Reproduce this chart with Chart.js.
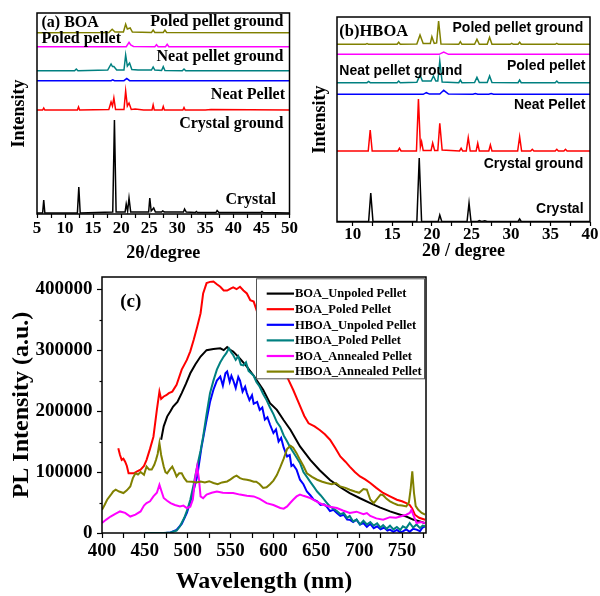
<!DOCTYPE html>
<html><head><meta charset="utf-8">
<script src="https://cdn.jsdelivr.net/npm/chart.js@4.4.0/dist/chart.umd.min.js"></script>
<style>
html,body{margin:0;padding:0;background:#fff;width:600px;height:596px;overflow:hidden}
canvas{position:absolute}
#ca{left:0;top:0;width:300px;height:262px}
#cb{left:300px;top:0;width:300px;height:262px}
#cc{left:0;top:262px;width:600px;height:334px}
</style></head><body>
<canvas id="ca" width="300" height="262"></canvas>
<canvas id="cb" width="300" height="262"></canvas>
<canvas id="cc" width="600" height="334"></canvas>
<script>
// ---------------- Panel (a) BOA XRD (stacked, arbitrary units) ----------------
const aCrystalX = [5,6.0,6.2,6.4,12.2,12.45,12.7,18.5,18.8,19.1,20.7,20.9,21.15,21.4,21.7,24.9,25.1,25.35,25.8,26.1,27.2,27.4,27.7,31.1,31.3,31.6,33.2,33.4,33.6,36.9,37.1,37.4,44.9,45.1,45.3,50];
const aCrystalY = [1,1,14,1,1,27,1,2,94,2,2,10,3,16,2,2,16,3,6,2,2,3,2,2,5,2,1.5,2.5,1.5,1.5,3.5,1.5,1.5,2.5,1.5,1];
const aCrystalGroundX = [5,6.0,6.2,6.4,12.2,12.4,12.6,17.8,18.2,18.45,18.7,19.0,20.5,20.8,21.1,21.4,21.8,22.5,24.0,25.5,25.7,25.9,27.3,27.5,27.7,31.0,31.2,31.4,35,36,50];
const aCrystalGroundY = [104,104,106,104,104,107,104,104.5,112,108,116,104.5,104.5,123,108,111,104.5,105,104,104,109,104,104,107.5,104,104,106.5,104,104,104.5,104];
const aNeatPelletX = [5,18.2,18.5,18.8,20.5,21,21.5,50];
const aNeatPelletY = [133.3,133.3,134.2,133.3,133.3,135.5,133.3,133.3];
const aNeatGroundX = [5,11.7,12.0,12.3,17.6,18.2,18.45,18.7,19.2,20.5,20.8,21.1,21.5,21.9,23,25.4,25.7,26.0,27.2,27.5,27.8,30.9,31.2,31.5,50];
const aNeatGroundY = [143.3,143.3,145,143.3,144,150,147.5,147.5,144,144,159,148,151,144.5,144,144,147,144,143.5,147.3,143.5,143.3,145,143.3,143.3];
const aPoledX = [5,20.9,21.4,21.7,22.2,26.0,26.3,26.6,27.9,28.2,28.5,50];
const aPoledY = [167.3,167.3,171.7,169,167.5,167.3,169.3,167.3,167.3,169.7,167.3,167.3];
const aPoledGroundX = [5,17.8,18.4,18.9,20.4,20.8,21.1,21.6,22,25.4,25.7,26,27.5,27.8,28.1,50];
const aPoledGroundY = [181.3,181.5,184.7,182,182,189.7,185,186,182,181.5,184,181.5,181.5,184,181.5,181.3];
const aTicks = [5,7.5,10,12.5,15,17.5,20,22.5,25,27.5,30,32.5,35,37.5,40,42.5,45,47.5,50];

// ---------------- Panel (b) HBOA XRD ----------------
const bCrystalX = [8,12.0,12.27,12.55,18.1,18.4,18.7,20.8,21.0,21.25,24.45,24.7,24.95,25.8,26.0,26.3,26.7,27.0,30.9,31.1,31.3,40];
const bCrystalY = [0.5,0.5,29,0.5,0.5,64,0.5,0.5,7,0.5,0.5,19,0.5,0.5,1.5,0.5,1.2,0.5,0.5,3,0.5,0.5];
const bCrystalGroundX = [8,11.95,12.2,12.45,15.7,15.9,16.1,18.05,18.3,18.55,18.7,18.9,19.9,20.1,20.35,20.75,21.0,21.3,23.5,23.7,23.9,24.35,24.6,24.85,25.6,25.8,26.0,27.2,27.4,27.6,30.85,31.1,31.35,32.5,32.7,32.9,35.6,35.8,36.0,36.7,36.9,37.1,40];
const bCrystalGroundY = [71,71,92,71,71,73.7,71,71,123,75,80.3,71.5,71.5,79,71.5,71.5,98.7,72,71,73.7,71,71,84.3,71,71,78.7,71,71,77,71,71,85.3,71,71,72.7,71,71,72.7,71,71,72.7,71,71];
const bNeatPelletX = [8,18.9,19.3,19.7,21.0,21.5,22.1,25.2,25.5,25.8,27.2,27.5,27.8,40];
const bNeatPelletY = [127.7,127.7,129.3,127.9,128,131.7,128,127.7,128.5,127.7,127.7,128.5,127.7,127.7];
const bNeatGroundX = [8,11.8,12.0,12.2,15.6,15.8,16.0,18.1,18.5,18.8,19.9,20.2,20.5,20.75,21.0,21.3,23.4,23.6,23.8,25.4,25.7,26.0,27.0,27.3,27.6,30.9,31.1,31.3,35.6,35.8,36.0,40];
const bNeatGroundY = [139.3,139.3,140.5,139.3,139.3,141,139.3,139.8,147,141,141,146,141,141,161,140,139.3,142,139.3,139.5,144.7,139.5,139.5,146,139.5,139.3,142,139.3,139.3,141,139.3,139.3];
const bPoledX = [8,20.9,21.5,22.1,40];
const bPoledY = [167.7,167.7,170,167.7,167.7];
const bPoledGroundX = [8,11.6,11.8,12.0,15.6,15.8,16.0,18.1,18.5,18.9,19.8,20.0,20.3,20.6,20.85,21.15,23.4,23.6,23.8,25.4,25.7,26.0,27.0,27.3,27.6,29.9,30.1,30.3,30.9,31.1,31.3,35.6,35.8,36.0,40];
const bPoledGroundY = [177.7,177.7,178.5,177.7,177.7,179.7,177.7,178,187,178.5,178.5,185.3,178.5,179,201,178,177.7,180.3,177.7,177.7,182.7,177.7,177.7,184.7,177.7,177.7,178.7,177.7,177.7,179.7,177.7,177.7,178.7,177.7,177.7];
const bTicks = [10,12.5,15,17.5,20,22.5,25,27.5,30,32.5,35,37.5,40];

// ---------------- Panel (c) PL spectra ----------------
const plLabels = ['BOA_Unpoled Pellet','BOA_Poled Pellet','HBOA_Unpoled Pellet','HBOA_Poled Pellet','BOA_Annealed Pellet','HBOA_Annealed Pellet'];
const cXTicks = [400,425,450,475,500,525,550,575,600,625,650,675,700,725,750,775];
const cYTicks = [0,50000,100000,150000,200000,250000,300000,350000,400000];
const boaUnpoledWl = [469,472,476,480,483,488,493,498,503,509,515,522,530,538,542,546,550,553,561,569,577,588,596,604,612,620,631,643,654,666,678,689,701,713,724,736,748,755,763,771,777];
const boaUnpoledI = [153000,175000,191000,200000,207500,215000,229500,245000,262000,277000,289500,300000,302000,303000,300000,305000,300000,297700,286000,273000,258000,235000,213000,202000,185000,169000,142000,120000,103000,87000,75000,65500,57000,49000,42000,35400,30000,27000,22000,19000,16000];
const boaPoledWl = [419,421,423,425,427,429,431,434,437,441,445,449,452,456,460,464,467,469,472,475,478,482,487,493,499,503,507,511,515,518,522,526,530,534,538,542,546,550,553,557,561,565,569,573,577,584,590,596,604,612,618,623,630,636,641,648,654,660,666,672,678,684,689,695,701,707,713,720,728,736,744,750,755,759,762,765,770,777];
const boaPoledI = [139000,128000,120000,122000,117000,110000,98000,98000,98000,101000,104000,110000,120000,138000,158000,202000,232000,220000,224000,226000,229500,232000,243000,268000,284000,298000,317000,338000,360600,393000,410000,412000,412500,408000,404000,398000,397700,401000,403000,400000,404000,398000,393000,382000,379700,350000,330000,311000,290000,268000,250000,235000,212000,192000,180000,175000,169000,162000,153000,140000,125600,117000,109000,100000,92800,88000,82000,74000,65600,60000,54600,52000,49000,46000,40000,30000,25000,21800];
const hboaUnpoledWl = [474,480,487,493,499,505,511,516,522,526,530,534,538,541,544,546,549,551,553,556,559,561,564,567,569,572,575,577,581,584,587,590,593,596,600,603,606,609,612,616,619,621,623,627,631,635,639,643,647,651,655,659,662,666,670,674,678,682,686,689,693,697,701,705,709,713,717,721,725,729,733,736,740,744,748,751,755,759,763,767,771,774,777];
const hboaUnpoledI = [0,1000,5000,15000,33000,60000,92800,140000,185700,215000,235000,250000,256700,242000,262000,265000,248000,258000,251000,238000,256000,250000,232000,240000,229500,218000,226000,212000,215000,202000,206000,186000,190000,178000,164000,170000,150000,156000,140000,125600,128000,110000,112000,104000,87400,80000,68000,62000,54600,52000,46000,47000,43600,36000,38000,32800,28000,30000,22000,21800,18000,22000,14000,16400,10000,15000,8000,11000,6000,9000,4000,5500,2000,5000,1000,2700,6000,2000,7000,5500,3000,9000,11000];
const hboaPoledWl = [450,460,472,480,487,491,496,500,503,507,511,515,518,522,526,530,534,538,542,545,548,551,553,556,559,562,565,568,571,574,577,580,584,588,592,596,600,604,608,612,616,619,623,627,631,635,639,643,647,651,655,659,662,666,670,674,678,682,686,689,693,697,701,705,709,713,717,721,725,728,732,736,740,744,748,751,755,759,763,767,771,774,777];
const hboaPoledI = [0,0,0,1000,4000,11000,25000,40000,54600,80000,109000,135000,158000,195000,229500,250000,268000,280000,289500,295000,303000,296000,292000,284000,290000,276000,275000,280000,266000,262000,258000,248000,240000,228000,218000,206000,195000,182000,174000,160000,150000,142000,133000,124000,115000,100000,92000,84000,76000,68000,62000,55000,50000,43600,40000,36000,31000,33000,25000,28000,19000,22000,14000,20000,14000,18000,12000,16000,9000,13000,7000,12000,6000,10000,5000,11000,8000,16400,9000,14000,8000,12000,11000];
const boaAnnealedWl = [400,405,410,415,421,427,433,439,445,449,452,456,460,464,467,470,472,476,480,485,491,495,499,503,506,509,511,513,515,518,522,528,534,541,548,553,561,569,577,584,592,600,608,612,616,620,623,627,631,635,643,650,658,666,674,681,689,697,705,709,713,720,728,736,743,748,755,759,761,763,767,772,777];
const boaAnnealedI = [16400,22000,27000,31000,35400,33000,27000,30000,35400,45000,49000,52000,60000,66000,79000,66000,57400,53000,49000,46000,43600,45000,41000,43000,55000,92800,109000,90000,60000,57000,63000,66000,68000,66000,65600,65600,63000,61000,60000,56000,49000,46000,41000,40000,43600,50000,54600,60000,63000,61000,57400,52000,46400,43000,41000,37000,32800,35000,31000,32800,28000,24000,21800,26000,25000,27000,30000,33000,38000,30000,16400,18000,16400];
const hboaAnnealedWl = [400,403,406,410,413,416,420,425,429,433,436,439,442,445,449,452,455,458,461,463,465,467,469,472,474,476,479,482,485,487,490,493,496,499,505,510,515,520,525,530,535,540,546,550,554,557,561,565,569,573,577,580,584,588,592,596,600,604,608,612,616,620,623,627,631,635,639,645,651,657,662,668,673,678,684,689,695,700,705,709,713,717,721,725,728,732,736,740,745,750,755,758,760,762,764,766,769,773,777];
const hboaAnnealedI = [38000,46000,54600,62000,68000,71000,68000,65600,70000,76400,90000,98000,96000,100000,95600,109000,104000,104000,112000,120000,130000,147500,128000,109000,100000,98000,104000,109000,100000,92800,98000,98000,90000,84600,84000,83000,84600,83000,85000,82000,80000,83000,84600,88000,92000,94000,90000,88000,87400,86000,84000,84000,80000,74000,75000,80000,86000,95000,108000,122000,138000,143000,140000,131000,120000,110000,98000,92000,87400,84000,82000,80000,82000,76400,74000,71000,68000,66000,72000,71000,55000,49000,56000,63000,62000,56000,52000,49000,46000,45000,43600,50000,71000,101000,65600,44000,38000,33000,30000];

// ---------------- helpers ----------------
const SERIF = "'Liberation Serif','Times New Roman',serif";
const SANS = "'Liberation Sans',Arial,sans-serif";
Chart.defaults.font.family = SERIF;
Chart.defaults.font.weight = 'bold';
Chart.defaults.color = '#000';

function pts(xs, ys){ return xs.map((x,i)=>({x:x, y:ys[i]})); }
function ds(label, xs, ys, color, w, order){
  return {label:label, data:pts(xs,ys), borderColor:color, backgroundColor:color,
          borderWidth:w, pointRadius:0, tension:0, fill:false, order:order};
}
function fixedTicks(values){ return function(scale){ scale.ticks = values.map(v=>({value:v})); }; }
const frame = { id:'frame', afterDatasetsDraw(chart){
  const ctx=chart.ctx, a=chart.chartArea; ctx.save(); ctx.strokeStyle='#000'; ctx.lineWidth=1.5;
  ctx.strokeRect(a.left, a.top, a.right-a.left, a.bottom-a.top); ctx.restore(); } };
function makeNotes(items){
  return { id:'notes', afterDatasetsDraw(chart){
    const ctx=chart.ctx, xs=chart.scales.x, ys=chart.scales.y;
    ctx.save(); ctx.fillStyle='#000'; ctx.textBaseline='middle';
    items.forEach(it=>{ ctx.font=it.font; ctx.textAlign=it.align;
      ctx.fillText(it.text, xs.getPixelForValue(it.x), ys.getPixelForValue(it.y)); });
    ctx.restore(); } };
}
function xrdOptions(cfg){
  return {
    responsive:false, animation:false, devicePixelRatio:1,
    layout:{padding:{top:cfg.padTop, right:cfg.padRight, left:0, bottom:0}},
    plugins:{legend:{display:false}, tooltip:{enabled:false}},
    scales:{
      x:{type:'linear', min:cfg.xmin, max:cfg.xmax, border:{display:false},
         afterBuildTicks: fixedTicks(cfg.ticks),
         grid:{display:true, drawOnChartArea:false, drawTicks:true, tickLength:4, tickColor:'#000', tickWidth:1.2},
         ticks:{autoSkip:false, maxRotation:0, padding:cfg.tickPad, font:{size:17, lineHeight:1},
                callback:v=> (Math.abs(v%5)<1e-9 ? String(v) : '')},
         title:{display:true, text:cfg.xTitle, font:{size:18, lineHeight:1}, padding:{top:0, bottom:cfg.titlePad}},
         afterFit(s){ s.height = cfg.xHeight; }},
      y:{type:'linear', min:0, max:cfg.ymax, border:{display:false}, grid:{display:false}, ticks:{display:false},
         title:{display:true, text:'Intensity', font:{size:18, lineHeight:1}, padding:{top:cfg.yTitlePad, bottom:0}},
         afterFit(s){ s.width = 37; }}
    }
  };
}

// ---------------- Chart (a) ----------------
const fa = "bold 16px " + SERIF;
new Chart(document.getElementById('ca'), {
  type:'line',
  data:{datasets:[
    ds('Crystal', aCrystalX, aCrystalY, '#000000', 1.5, 0),
    ds('Crystal ground', aCrystalGroundX, aCrystalGroundY, '#ff0000', 1.5, 0),
    ds('Neat Pellet', aNeatPelletX, aNeatPelletY, '#0000ff', 1.5, 0),
    ds('Neat pellet ground', aNeatGroundX, aNeatGroundY, '#008080', 1.5, 0),
    ds('Poled pellet', aPoledX, aPoledY, '#ff00ff', 1.5, 0),
    ds('Poled pellet ground', aPoledGroundX, aPoledGroundY, '#808000', 1.5, 0)
  ]},
  options: xrdOptions({xmin:5, xmax:50, ymax:201, ticks:aTicks, padTop:13, padRight:9, tickPad:2, xTitle:'2θ/degree', titlePad:0, xHeight:48, yTitlePad:10}),
  plugins:[frame, makeNotes([
    {text:'(a) BOA', x:5.8, y:191.3, align:'left', font:fa},
    {text:'Poled pellet ground', x:48.9, y:192, align:'right', font:fa},
    {text:'Poled pellet', x:5.8, y:174.7, align:'left', font:fa},
    {text:'Neat pellet ground', x:48.9, y:157.3, align:'right', font:fa},
    {text:'Neat Pellet', x:49.2, y:119, align:'right', font:fa},
    {text:'Crystal ground', x:48.9, y:90, align:'right', font:fa},
    {text:'Crystal', x:47.6, y:14, align:'right', font:fa}
  ])]
});

// ---------------- Chart (b) ----------------
const fb = "bold 14px " + SANS;
new Chart(document.getElementById('cb'), {
  type:'line',
  data:{datasets:[
    ds('Crystal', bCrystalX, bCrystalY, '#000000', 1.5, 0),
    ds('Crystal ground', bCrystalGroundX, bCrystalGroundY, '#ff0000', 1.5, 0),
    ds('Neat Pellet', bNeatPelletX, bNeatPelletY, '#0000ff', 1.5, 0),
    ds('Neat pellet ground', bNeatGroundX, bNeatGroundY, '#008080', 1.5, 0),
    ds('Poled pellet', bPoledX, bPoledY, '#ff00ff', 1.5, 0),
    ds('Poled pellet ground', bPoledGroundX, bPoledGroundY, '#808000', 1.5, 0)
  ]},
  options: xrdOptions({xmin:8, xmax:40, ymax:205, ticks:bTicks, padTop:17, padRight:10, tickPad:0.5, xTitle:'2θ / degree', titlePad:1.3, xHeight:40, yTitlePad:11}),
  plugins:[frame, makeNotes([
    {text:'(b)HBOA', x:8.3, y:190.3, align:'left', font:"bold 16.5px " + SERIF},
    {text:'Poled pellet ground', x:39.14, y:194, align:'right', font:fb},
    {text:'Poled pellet', x:39.43, y:156.3, align:'right', font:fb},
    {text:'Neat pellet ground', x:8.3, y:151, align:'left', font:fb},
    {text:'Neat Pellet', x:39.43, y:117, align:'right', font:fb},
    {text:'Crystal ground', x:39.14, y:58, align:'right', font:fb},
    {text:'Crystal', x:39.18, y:12.7, align:'right', font:fb}
  ])]
});

// ---------------- Chart (c) ----------------
const plColors = ['#000000','#ff0000','#0000ff','#008080','#ff00ff','#808000'];
const pcLegend = { id:'pcLegend', afterDraw(chart){
  const ctx=chart.ctx, a=chart.chartArea;
  const x0=a.right-170, y0=a.top+1.3, w=168, h=100;
  ctx.save();
  ctx.fillStyle='#fff'; ctx.fillRect(x0,y0,w,h);
  ctx.strokeStyle='#555'; ctx.lineWidth=1; ctx.strokeRect(x0+0.5,y0+0.5,w,h);
  ctx.font="bold 12.5px " + SERIF; ctx.textBaseline='middle'; ctx.textAlign='left';
  chart.data.datasets.forEach((d,i)=>{
    const y=y0+15.3+i*15.6;
    ctx.strokeStyle=d.borderColor; ctx.lineWidth=2.2;
    ctx.beginPath(); ctx.moveTo(x0+10.7,y); ctx.lineTo(x0+38,y); ctx.stroke();
    ctx.fillStyle='#000'; ctx.fillText(d.label, x0+39, y+0.5);
  });
  ctx.restore(); } };
// short minor ticks on the PL intensity axis
const minorY = { id:'minorY', afterDraw(chart){
  const ctx=chart.ctx, ys=chart.scales.y, a=chart.chartArea;
  ctx.save(); ctx.strokeStyle='#000'; ctx.lineWidth=1.2;
  ys.ticks.forEach(t=>{ if (t.value%100000!==0){ const y=Math.round(ys.getPixelForValue(t.value))+0.5;
    ctx.beginPath(); ctx.moveTo(a.left-2.5,y); ctx.lineTo(a.left,y); ctx.stroke(); } });
  ctx.restore(); } };

new Chart(document.getElementById('cc'), {
  type:'line',
  data:{datasets:[
    ds(plLabels[0], boaUnpoledWl, boaUnpoledI, plColors[0], 2, 5),
    ds(plLabels[1], boaPoledWl, boaPoledI, plColors[1], 2, 4),
    ds(plLabels[2], hboaUnpoledWl, hboaUnpoledI, plColors[2], 2, 3),
    ds(plLabels[3], hboaPoledWl, hboaPoledI, plColors[3], 2, 2),
    ds(plLabels[4], boaAnnealedWl, boaAnnealedI, plColors[4], 2, 1),
    ds(plLabels[5], hboaAnnealedWl, hboaAnnealedI, plColors[5], 2, 0)
  ]},
  options:{
    responsive:false, animation:false, devicePixelRatio:1,
    layout:{padding:{top:15, right:174, left:0, bottom:0}},
    plugins:{legend:{display:false}, tooltip:{enabled:false}},
    scales:{
      x:{type:'linear', min:400, max:778, border:{display:false},
         afterBuildTicks: fixedTicks(cXTicks),
         grid:{display:true, drawOnChartArea:false, drawTicks:true, tickLength:5, tickColor:'#000', tickWidth:1.2},
         ticks:{autoSkip:false, maxRotation:0, padding:4, font:{size:19, lineHeight:1},
                callback:v=> (v%50===0 ? String(v) : '')},
         title:{display:true, text:'Wavelength (nm)', font:{size:24, lineHeight:1}, padding:{top:0,bottom:2.3}},
         afterFit(s){ s.height=63; }},
      y:{type:'linear', min:0, max:420000, border:{display:false},
         afterBuildTicks: fixedTicks(cYTicks),
         grid:{display:true, drawOnChartArea:false, drawTicks:true, tickLength:5, tickWidth:1.2,
               tickColor:c=> (c.tick && c.tick.value%100000===0 ? '#000' : 'rgba(0,0,0,0)')},
         ticks:{autoSkip:false, padding:4.5, font:{size:19, lineHeight:1},
                callback:v=> (v%100000===0 ? String(v) : '')},
         title:{display:true, text:'PL Intensity (a.u.)', font:{size:24, lineHeight:1}, padding:{top:10,bottom:0}},
         afterFit(s){ s.width=102; }}
    }
  },
  plugins:[frame, minorY, makeNotes([
    {text:'(c)', x:421.3, y:379000, align:'left', font:"bold 19px " + SERIF}
  ]), pcLegend]
});
</script>
</body></html>
